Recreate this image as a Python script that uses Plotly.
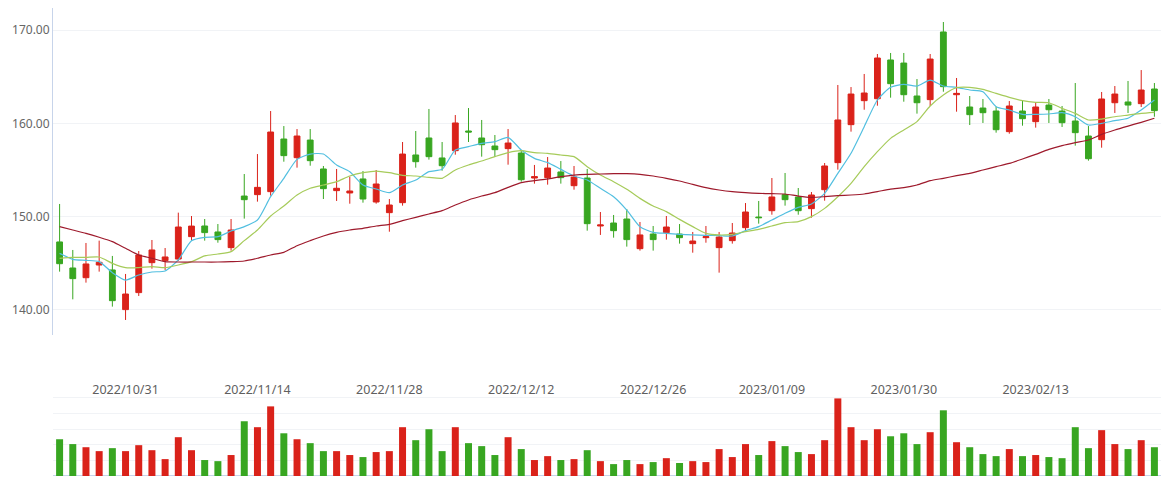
import plotly.graph_objects as go

# trading days (category axis)
dates = [
    "2022/10/24", "2022/10/25", "2022/10/26", "2022/10/27", "2022/10/28",
    "2022/10/31", "2022/11/01", "2022/11/02", "2022/11/03", "2022/11/04",
    "2022/11/07", "2022/11/08", "2022/11/09", "2022/11/10", "2022/11/11",
    "2022/11/14", "2022/11/15", "2022/11/16", "2022/11/17", "2022/11/18",
    "2022/11/21", "2022/11/22", "2022/11/23", "2022/11/24", "2022/11/25",
    "2022/11/28", "2022/11/29", "2022/11/30", "2022/12/01", "2022/12/02",
    "2022/12/05", "2022/12/06", "2022/12/07", "2022/12/08", "2022/12/09",
    "2022/12/12", "2022/12/13", "2022/12/14", "2022/12/15", "2022/12/16",
    "2022/12/19", "2022/12/20", "2022/12/21", "2022/12/22", "2022/12/23",
    "2022/12/26", "2022/12/27", "2022/12/28", "2022/12/29", "2022/12/30",
    "2023/01/03", "2023/01/04", "2023/01/05", "2023/01/06",
    "2023/01/09", "2023/01/10", "2023/01/11", "2023/01/12", "2023/01/13",
    "2023/01/16", "2023/01/17", "2023/01/18", "2023/01/19", "2023/01/20",
    "2023/01/30", "2023/01/31", "2023/02/01", "2023/02/02", "2023/02/03",
    "2023/02/06", "2023/02/07", "2023/02/08", "2023/02/09", "2023/02/10",
    "2023/02/13", "2023/02/14", "2023/02/15", "2023/02/16", "2023/02/17",
    "2023/02/20", "2023/02/21", "2023/02/22", "2023/02/23", "2023/02/24",
]

open_ = [
    147.29, 144.50, 143.46, 144.82, 144.29, 140.04, 141.86, 145.07, 145.29, 145.46,
    147.86, 149.00, 148.36, 146.68, 152.21, 152.36, 152.68, 158.32, 156.32, 158.21,
    155.11, 152.79, 152.54, 154.04, 151.57, 150.43, 151.50, 156.61, 158.43, 156.29,
    157.07, 159.18, 158.43, 157.57, 157.29, 156.82, 154.14, 154.18, 154.79, 153.32,
    154.14, 149.00, 149.32, 149.75, 146.57, 148.14, 148.29, 148.14, 147.11, 147.75,
    146.68, 147.43, 148.82, 149.96, 150.64, 152.36, 152.11, 150.86, 152.89, 155.79,
    159.86, 162.43, 162.64, 166.79, 166.46, 162.93, 162.54, 169.79, 163.07, 161.75,
    161.64, 161.32, 159.11, 161.32, 160.18, 161.96, 161.32, 160.25, 158.64, 158.25,
    162.21, 162.29, 162.11, 163.68,
]
close = [
    144.96, 143.36, 144.93, 145.11, 141.00, 141.71, 145.89, 146.43, 145.68, 148.89,
    148.99, 148.29, 147.54, 148.57, 151.82, 153.14, 159.07, 156.54, 158.64, 156.00,
    153.00, 153.04, 152.75, 151.89, 153.50, 151.25, 156.71, 155.89, 156.43, 155.46,
    160.04, 159.07, 157.71, 157.18, 157.89, 153.96, 154.29, 155.21, 154.18, 154.25,
    149.25, 149.11, 148.50, 147.54, 148.04, 147.54, 148.89, 147.75, 147.39, 147.86,
    147.82, 148.25, 150.50, 149.89, 152.11, 151.82, 150.64, 152.32, 155.43, 160.36,
    163.14, 163.25, 167.00, 164.25, 163.07, 162.21, 166.89, 163.93, 163.21, 160.93,
    161.14, 159.32, 161.86, 160.50, 161.75, 161.46, 160.07, 159.00, 156.21, 162.61,
    163.14, 161.96, 163.57, 161.36,
]
high = [
    151.36, 146.43, 147.18, 147.43, 145.79, 143.86, 146.32, 147.50, 146.64, 150.43,
    150.07, 149.75, 149.21, 149.75, 154.57, 156.71, 161.32, 159.71, 159.39, 159.39,
    155.43, 155.11, 154.29, 154.89, 155.00, 151.89, 158.00, 159.18, 161.54, 158.00,
    160.89, 161.64, 160.36, 158.75, 159.39, 157.14, 155.54, 156.39, 155.96, 155.43,
    155.11, 150.50, 150.18, 150.82, 149.43, 149.00, 150.07, 149.21, 148.36, 149.00,
    148.36, 149.32, 151.46, 151.68, 154.14, 154.68, 153.07, 152.64, 155.75, 164.11,
    163.89, 165.29, 167.43, 167.54, 167.54, 164.75, 167.43, 170.86, 164.86, 162.93,
    162.61, 161.79, 162.39, 162.50, 162.25, 162.61, 161.86, 164.32, 159.71, 163.36,
    164.00, 164.54, 165.71, 164.32,
]
low = [
    144.11, 141.14, 142.93, 144.11, 140.36, 138.93, 141.50, 144.43, 144.29, 145.25,
    147.43, 147.43, 147.21, 146.36, 149.79, 151.61, 152.25, 155.89, 155.25, 155.46,
    151.89, 151.68, 151.39, 151.50, 151.39, 148.39, 151.18, 155.25, 156.11, 154.93,
    156.64, 158.00, 156.43, 156.39, 155.57, 153.75, 153.54, 153.43, 153.54, 152.89,
    148.50, 148.04, 147.75, 146.79, 146.36, 146.36, 147.54, 147.11, 146.14, 147.21,
    144.00, 147.11, 148.39, 149.25, 150.21, 151.18, 150.21, 149.89, 151.71, 155.04,
    159.11, 161.46, 161.89, 162.75, 162.32, 161.04, 161.86, 163.39, 161.25, 159.82,
    160.04, 159.00, 158.89, 159.75, 159.54, 160.04, 159.61, 157.61, 156.00, 157.39,
    161.11, 161.11, 161.75, 160.71,
]

ma5 = [
    146.07, 145.43, 145.32, 145.18, 144.00, 143.21, 143.75, 144.07, 144.18, 145.36,
    147.43, 147.79, 147.86, 148.46, 148.93, 149.64, 152.14, 154.11, 156.14, 156.71,
    156.71, 155.54, 154.82, 153.39, 152.96, 152.57, 153.39, 153.93, 154.82, 155.07,
    157.14, 157.50, 157.86, 158.04, 158.50, 157.14, 156.25, 155.79, 155.07, 154.36,
    153.93, 153.04, 152.14, 150.71, 148.93, 148.32, 148.21, 148.11, 148.04, 148.00,
    147.96, 147.93, 148.50, 148.93, 149.64, 150.36, 151.00, 151.36, 152.50, 154.64,
    156.79, 159.64, 162.50, 163.86, 164.18, 164.00, 164.64, 164.00, 163.86, 163.57,
    163.39, 161.79, 161.43, 160.96, 160.96, 161.00, 161.14, 160.71, 159.82, 160.00,
    160.29, 160.54, 161.43, 162.50,
]
ma10 = [
    145.54, 145.64, 145.64, 145.68, 145.00, 144.54, 144.54, 144.64, 144.54, 144.82,
    145.18, 145.79, 146.00, 146.25, 147.43, 148.57, 150.07, 151.14, 152.32, 153.04,
    153.39, 153.75, 154.36, 154.71, 154.89, 154.71, 154.43, 154.36, 154.21, 154.11,
    155.00, 155.54, 155.96, 156.43, 156.86, 157.07, 156.86, 156.79, 156.61, 156.43,
    155.36, 154.46, 153.75, 152.93, 151.96, 151.14, 150.54, 149.71, 148.93, 148.21,
    148.04, 148.11, 148.39, 148.64, 149.00, 149.36, 149.46, 150.00, 150.89, 152.14,
    153.57, 155.36, 156.96, 158.39, 159.29, 160.18, 161.86, 163.04, 163.82, 163.86,
    163.64, 163.21, 162.79, 162.43, 162.25, 162.21, 161.61, 161.07, 160.36, 160.46,
    160.71, 160.89, 161.07, 161.18,
]
ma30 = [
    148.93, 148.57, 148.21, 147.79, 147.32, 146.61, 145.89, 145.54, 145.18, 145.14,
    145.14, 145.14, 145.14, 145.18, 145.25, 145.54, 145.89, 146.18, 146.89, 147.43,
    147.93, 148.32, 148.57, 148.75, 149.00, 149.18, 149.57, 149.93, 150.29, 150.64,
    151.25, 151.79, 152.21, 152.57, 153.14, 153.64, 153.86, 154.04, 154.29, 154.46,
    154.54, 154.57, 154.61, 154.61, 154.54, 154.36, 154.11, 153.82, 153.46, 153.11,
    152.86, 152.68, 152.57, 152.50, 152.46, 152.43, 152.21, 152.07, 152.14, 152.25,
    152.32, 152.43, 152.68, 152.96, 153.11, 153.39, 153.86, 154.11, 154.39, 154.64,
    155.00, 155.36, 155.71, 156.18, 156.68, 157.21, 157.61, 157.93, 158.21, 158.82,
    159.29, 159.71, 160.11, 160.54,
]

volume = [
    235, 204, 184, 159, 178, 159, 197, 165, 108, 248,
    165, 102, 95, 134, 350, 312, 445, 273, 235, 210,
    159, 159, 134, 121, 153, 159, 312, 229, 299, 159,
    312, 210, 191, 134, 248, 172, 102, 127, 102, 108,
    165, 95, 76, 102, 76, 89, 114, 83, 95, 89,
    172, 121, 204, 134, 223, 191, 153, 140, 229, 496,
    312, 229, 299, 254, 273, 204, 280, 420, 216, 184,
    140, 127, 172, 127, 134, 121, 114, 312, 178, 293,
    204, 172, 229, 184,
]

date_ticks = ["2022/10/31", "2022/11/14", "2022/11/28", "2022/12/12",
              "2022/12/26", "2023/01/09", "2023/01/30", "2023/02/13"]
price_ticks = [140, 150, 160, 170]

RED = "#da221a"
GREEN = "#38a621"
GRID = "#f1f3f6"
AXIS = "#c7d4ea"
FONT = dict(family="Noto Sans, sans-serif", size=12, color="#666666")
DATE_FONT = dict(family="Noto Sans, sans-serif", size=12.5, color="#5f5f5f")

vol_colors = [RED if c >= o else GREEN for o, c in zip(open_, close)]

fig = go.Figure()
fig.add_trace(go.Candlestick(
    x=dates, open=open_, high=high, low=low, close=close,
    increasing=dict(line=dict(color=RED, width=1), fillcolor=RED),
    decreasing=dict(line=dict(color=GREEN, width=1), fillcolor=GREEN),
    whiskerwidth=0, xaxis="x", yaxis="y", name="K"))

for name, vals, col in [("MA5", ma5, "#52bfe0"), ("MA10", ma10, "#a6cb5a"), ("MA30", ma30, "#9e1a2c")]:
    fig.add_trace(go.Scatter(x=dates, y=vals, mode="lines", name=name,
                             line=dict(color=col, width=1.2, shape="spline", smoothing=0.6),
                             xaxis="x", yaxis="y"))

fig.add_trace(go.Bar(x=dates, y=volume, marker=dict(color=vol_colors, line=dict(width=0)),
                     width=0.53, xaxis="x2", yaxis="y2", name="Volume"))

n = len(dates)
fig.update_layout(
    width=1169, height=480,
    margin=dict(l=53, r=8, t=8, b=4),
    paper_bgcolor="white", plot_bgcolor="white",
    showlegend=False, font=FONT, boxgap=0.37,
    xaxis=dict(domain=[0, 1], anchor="y", type="category", categoryorder="array",
               categoryarray=dates, range=[-0.5, n - 0.5], showticklabels=False,
               showgrid=False, zeroline=False, showline=False, rangeslider=dict(visible=False)),
    yaxis=dict(domain=[0.3013, 1], anchor="x", range=[137.32, 172.36], tickvals=price_ticks,
               tickformat=".2f", showgrid=True, gridcolor=GRID, gridwidth=1, zeroline=False,
               showline=True, linecolor=AXIS, linewidth=1, ticks="", tickfont=FONT,
               automargin=False),
    xaxis2=dict(domain=[0, 1], anchor="y2", type="category", categoryorder="array",
                categoryarray=dates, range=[-0.5, n - 0.5], side="top", tickvals=date_ticks,
                ticklabelposition="inside", ticks="", showgrid=False, zeroline=False,
                showline=False, tickfont=DATE_FONT, automargin=False),
    yaxis2=dict(domain=[0, 0.2009], anchor="x2", range=[0, 601], dtick=100, showticklabels=False,
                showgrid=True, gridcolor=GRID, gridwidth=1, zeroline=True, zerolinecolor=AXIS,
                zerolinewidth=1, ticks="", automargin=False),
)

# the page body keeps its default 8px margin otherwise
fig.write_html("out.html", config={"displayModeBar": False},
               post_script="document.body.style.margin='0';")
